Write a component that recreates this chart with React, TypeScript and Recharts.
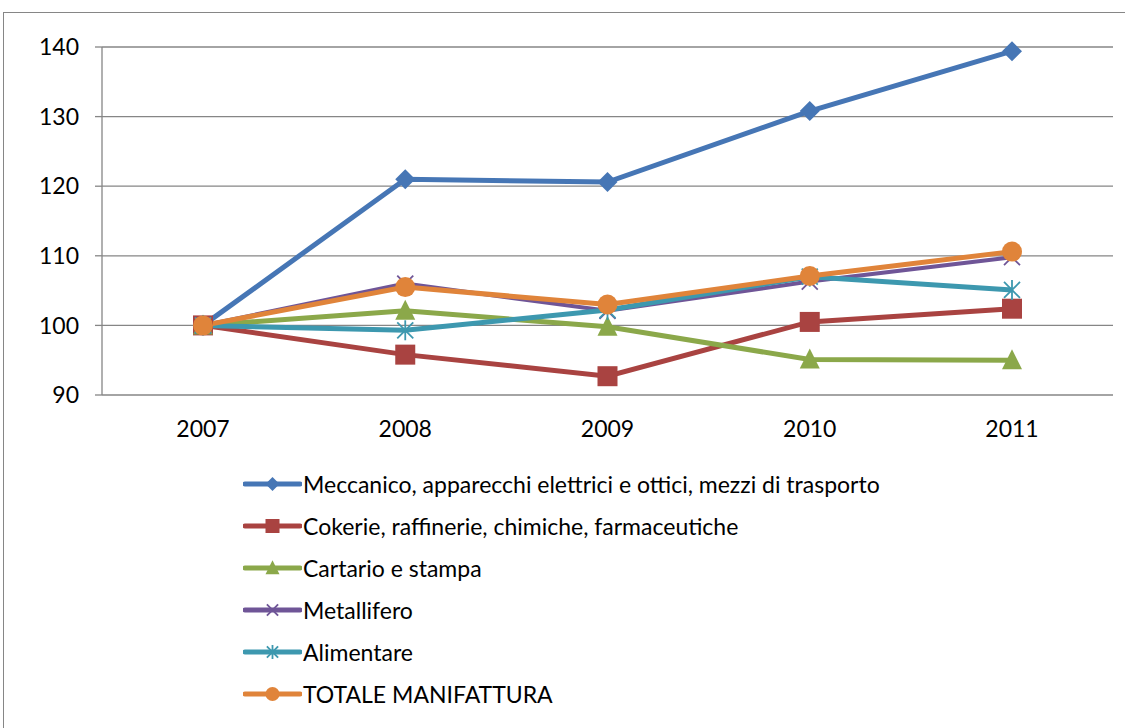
import { LineChart, Line, XAxis, YAxis, CartesianGrid } from 'recharts';

// Indici di produzione per settore, 2007 = 100
const years = ['2007', '2008', '2009', '2010', '2011'];
const meccanico = [100, 121.0, 120.6, 130.8, 139.4];
const cokerie = [100, 95.8, 92.7, 100.5, 102.4];
const cartario = [100, 102.1, 99.8, 95.1, 95.0];
const metallifero = [100, 106.0, 102.1, 106.3, 109.8];
const alimentare = [100, 99.3, 102.2, 107.0, 105.1];
const totale = [100, 105.5, 103.0, 107.1, 110.6];
const yTicks = [90, 100, 110, 120, 130, 140];
const edgeTicks = [0, 1, 2, 3, 4, 5];

const FONT = 'Lato, "Open Sans", sans-serif';
const GRAY = '#868686';

type Marker = 'diamond' | 'square' | 'triangle' | 'x' | 'star' | 'circle';

const series: { key: string; name: string; color: string; width: number; marker: Marker }[] = [
  { key: 'meccanico', name: 'Meccanico, apparecchi elettrici e ottici, mezzi di trasporto', color: '#4676B5', width: 5, marker: 'diamond' },
  { key: 'cokerie', name: 'Cokerie, raffinerie, chimiche, farmaceutiche', color: '#A94341', width: 5, marker: 'square' },
  { key: 'cartario', name: 'Cartario e stampa', color: '#8BA84A', width: 5, marker: 'triangle' },
  { key: 'metallifero', name: 'Metallifero', color: '#6F5597', width: 4, marker: 'x' },
  { key: 'alimentare', name: 'Alimentare', color: '#3D98AF', width: 5, marker: 'star' },
  { key: 'totale', name: 'TOTALE MANIFATTURA', color: '#E0843A', width: 5, marker: 'circle' },
];

const data = years.map((year, i) => ({
  year,
  meccanico: meccanico[i],
  cokerie: cokerie[i],
  cartario: cartario[i],
  metallifero: metallifero[i],
  alimentare: alimentare[i],
  totale: totale[i],
}));

function markerShape(marker: Marker, cx: number, cy: number, color: string, s: number) {
  switch (marker) {
    case 'diamond':
      return <polygon points={`${cx},${cy - s} ${cx + s},${cy} ${cx},${cy + s} ${cx - s},${cy}`} fill={color} />;
    case 'square':
      return <rect x={cx - s} y={cy - s} width={s * 2} height={s * 2} fill={color} />;
    case 'triangle':
      return <polygon points={`${cx},${cy - s * 1.1} ${cx + s},${cy + s * 0.9} ${cx - s},${cy + s * 0.9}`} fill={color} />;
    case 'x':
      return (
        <g stroke={color} strokeWidth={1.8}>
          <line x1={cx - s * 0.8} y1={cy - s * 0.8} x2={cx + s * 0.8} y2={cy + s * 0.8} />
          <line x1={cx - s * 0.8} y1={cy + s * 0.8} x2={cx + s * 0.8} y2={cy - s * 0.8} />
        </g>
      );
    case 'star':
      return (
        <g stroke={color} strokeWidth={1.8}>
          <line x1={cx - s * 0.8} y1={cy - s * 0.8} x2={cx + s * 0.8} y2={cy + s * 0.8} />
          <line x1={cx - s * 0.8} y1={cy + s * 0.8} x2={cx + s * 0.8} y2={cy - s * 0.8} />
          <line x1={cx} y1={cy - s} x2={cx} y2={cy + s} />
        </g>
      );
    default:
      return <circle cx={cx} cy={cy} r={s} fill={color} />;
  }
}

const makeDot = (marker: Marker, color: string) => (props: any) => {
  const { cx, cy, index } = props;
  if (cx == null || cy == null) return <g key={index} />;
  return <g key={`${marker}-${index}`}>{markerShape(marker, cx, cy, color, 10)}</g>;
};

export default function App() {
  return (
    <div style={{ position: 'absolute', left: 0, top: 0, width: 1125, height: 728, overflow: 'hidden', background: '#fff', fontFamily: FONT }}>
      <div style={{ position: 'absolute', left: 3, top: 12, right: 0, bottom: 0, borderLeft: `1px solid ${GRAY}`, borderTop: `1px solid ${GRAY}` }} />
      <div style={{ position: 'absolute', left: 0, top: 0 }}>
        <LineChart width={1125} height={728} data={data} margin={{ top: 47, right: 12, bottom: 303, left: 12 }}>
          <CartesianGrid vertical={false} stroke={GRAY} strokeWidth={1.3} />
          <XAxis
            xAxisId="edges"
            type="number"
            domain={[0, 5]}
            ticks={edgeTicks}
            tickFormatter={() => ''}
            height={0}
            stroke={GRAY}
            strokeWidth={1.3}
            tickSize={7}
          />
          <XAxis
            dataKey="year"
            height={30}
            padding={{ left: 101, right: 101 }}
            axisLine={false}
            tickLine={false}
            tickSize={0}
            tickMargin={26}
            tick={{ fill: '#000', fontSize: 23, fontFamily: FONT }}
          />
          <YAxis
            domain={[90, 140]}
            ticks={yTicks}
            width={90}
            stroke={GRAY}
            strokeWidth={1.3}
            tickSize={7}
            tickMargin={16}
            tick={{ fill: '#000', fontSize: 23, fontFamily: FONT }}
          />
          {series.map((s) => (
            <Line
              key={s.key}
              dataKey={s.key}
              name={s.name}
              stroke={s.color}
              strokeWidth={s.width}
              dot={makeDot(s.marker, s.color)}
              isAnimationActive={false}
            />
          ))}
        </LineChart>
      </div>
      <div style={{ position: 'absolute', left: 243, top: 463 }}>
        {series.map((s) => (
          <div key={s.key} style={{ display: 'flex', alignItems: 'center', height: 42 }}>
            <svg width={59} height={24} style={{ marginRight: 1 }}>
              <line x1={2} y1={12} x2={57} y2={12} stroke={s.color} strokeWidth={5} strokeLinecap="round" />
              {markerShape(s.marker, 29.5, 12, s.color, 7)}
            </svg>
            <span style={{ fontSize: 23, color: '#000', whiteSpace: 'nowrap' }}>{s.name}</span>
          </div>
        ))}
      </div>
    </div>
  );
}
